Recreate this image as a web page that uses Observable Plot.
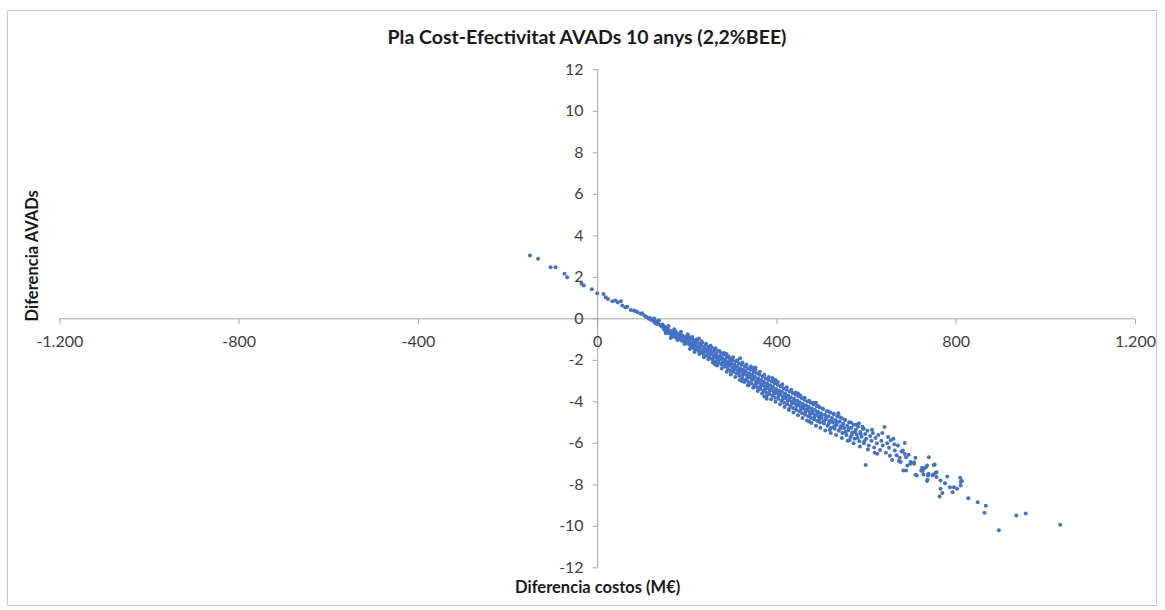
<!DOCTYPE html>
<html>
<head>
<meta charset="utf-8">
<script src="https://cdn.jsdelivr.net/npm/d3@7"></script>
<script src="https://cdn.jsdelivr.net/npm/@observablehq/plot@0.6"></script>
<style>
  html, body { margin: 0; padding: 0; background: #fff; }
  #wrap { position: relative; width: 1165px; height: 610px; overflow: hidden; font-family: Lato, "Open Sans", sans-serif; }
  #frame { position: absolute; left: 7px; top: 10px; width: 1150px; height: 596px; border: 1px solid #c8c8c8; box-sizing: border-box; }
  #title { position: absolute; top: 25px; left: 587px; transform: translateX(-50%); white-space: nowrap; font-size: 19.5px; font-weight: 700; color: #1a1a1a; line-height: 24px; }
  #chart { position: absolute; left: 0; top: 50px; }
</style>
</head>
<body>
<div id="wrap">
  <div id="frame"></div>
  <div id="title">Pla Cost-Efectivitat AVADs 10 anys (2,2%BEE)</div>
  <div id="chart"></div>
</div>
<script>
// Axis ticks
const xTicks = [-1200, -800, -400, 0, 400, 800, 1200];
const yTicks = [-12, -10, -8, -6, -4, -2, 0, 2, 4, 6, 8, 10, 12];
const xTitle = "Diferencia costos (M€)";
const yTitle = "Diferencia AVADs";

// Simulated points: [diferencia costos (M€), diferencia AVADs]
const pointsHead = [
  [-151,3.05],[-133,2.89],[-105,2.49],[-94,2.49],[-74,2.17],[-68,2.0],[-36,1.69],[-31,1.6],[-13,1.43],[-1,1.23],
  [13,1.19],[18,1.04],[23,0.96],[33,0.85],[40,0.88],[45,0.78],[52,0.85],[55,0.64],[62,0.56],[66,0.58],[74,0.43],
  [81,0.4],[85,0.36],[89,0.32],[96,0.24],[99,0.27],[104,0.16],[107,0.11],[110,0.08],[114,0.0],[117,0.04],[119,-0.05]
];
const pointsCore1 = [
  [121,-0.02],[124,-0.1],[126,0.02],[128,-0.18],[129,-0.21],[131,-0.12],[133,-0.25],[135,-0.2],[137,-0.08],[139,-0.3],
  [141,-0.32],[143,-0.36],[145,-0.28],[147,-0.45],[148,-0.48],[149,-0.38],[150,-0.55],[152,-0.42],[154,-0.6],[155,-0.48],
  [157,-0.52],[159,-0.7],[160,-0.58],[162,-0.66],[164,-0.75],[165,-0.6],[167,-0.8],[169,-0.68],[170,-0.86],[172,-0.74],
  [174,-0.62],[175,-0.9],[177,-0.8],[179,-0.72],[180,-0.98],[182,-0.84],[184,-0.92],[185,-0.76],[187,-1.05],[188,-0.9],
  [190,-0.82],[192,-1.1],[193,-0.96],[195,-0.88],[197,-1.15],[198,-1.02],[200,-0.9]
];
const pointsCore2 = [
  [202,-1.2],[203,-0.85],[204,-1.0],[205,-1.05],[207,-1.3],[208,-0.95],[209,-1.25],[210,-1.15],[212,-1.4],[213,-1.0],
  [214,-1.32],[215,-1.22],[217,-1.1],[218,-1.48],[219,-1.2],[220,-1.3],[222,-1.05],[223,-1.38],[224,-1.45],[225,-1.55],
  [226,-0.95],[227,-1.2],[228,-1.42],[229,-1.35],[230,-1.62],[231,-1.3],[233,-1.15],[234,-1.6],[235,-1.5],[236,-1.7],
  [238,-1.36],[239,-1.48],[240,-1.58],[241,-1.25],[243,-1.78],[244,-1.55],[245,-1.45],[246,-1.62],[248,-1.35],[249,-1.68],
  [250,-1.85],[251,-1.52],[253,-1.7],[254,-1.6],[255,-1.4],[256,-1.95],[258,-1.6],[259,-1.85],[260,-1.78],[261,-1.5],
  [262,-2.2],[263,-2.05],[264,-1.75],[265,-1.68],[266,-1.88],[268,-1.55],[269,-1.95],[270,-2.1],[271,-1.8],[273,-1.95],
  [274,-1.82],[275,-1.65],[276,-2.2],[278,-1.9],[279,-2.12],[280,-2.05],[281,-1.72],[283,-2.3],[284,-2.0],[285,-1.98],
  [286,-2.15],[287,-1.7],[288,-1.85],[289,-2.22],[290,-2.4],[291,-2.08],[293,-2.25],[294,-2.1],[295,-1.92],[296,-2.5],
  [298,-2.18],[299,-2.05],[300,-2.35],[301,-1.98]
];
const pointsCore3 = [
  [303,-2.55],[304,-2.38],[305,-2.2],[306,-2.42],[308,-2.05],[309,-2.3],[310,-2.62],[311,-2.3],[313,-2.48],[314,-2.6],
  [315,-2.15],[316,-2.75],[318,-2.38],[318,-1.9],[319,-2.45],[320,-2.55],[321,-2.22],[322,-3.0],[323,-2.85],[324,-2.7],
  [325,-2.45],[326,-2.65],[328,-2.3],[329,-2.5],[330,-2.95],[331,-2.55],[333,-2.72],[334,-2.85],[335,-2.38],[335,-3.2],
  [336,-3.05],[338,-2.62],[339,-2.7],[340,-2.82],[341,-2.45],[343,-3.1],[344,-2.95],[345,-2.7],[346,-2.9],[347,-2.4],
  [348,-2.55],[349,-2.78],[350,-3.2],[351,-2.8],[352,-2.35],[353,-3.0],[354,-3.1],[355,-2.62],[356,-3.3],[358,-2.88],
  [359,-2.95],[360,-3.08],[361,-2.7],[363,-3.38],[364,-3.25],[365,-2.95],[366,-3.18],[368,-2.78],[369,-3.1],[370,-3.45],
  [371,-3.05],[372,-3.75],[373,-3.25],[374,-3.4],[375,-2.88],[376,-3.55],[377,-3.85],[378,-3.12],[379,-3.2],[380,-3.35],
  [381,-2.95],[383,-3.62],[384,-3.48],[385,-3.2],[386,-3.42],[388,-3.02],[389,-3.35],[390,-3.7],[390,-2.85],[391,-3.28],
  [393,-3.5],[394,-3.6],[395,-3.1],[396,-3.8],[397,-2.95],[398,-3.38],[399,-3.45],[400,-3.58],[401,-3.18]
];
const pointsCore4 = [
  [403,-3.85],[404,-3.7],[405,-3.45],[406,-3.65],[408,-3.25],[409,-3.58],[410,-3.95],[411,-3.52],[413,-3.75],[414,-3.85],
  [415,-3.35],[416,-4.05],[418,-3.6],[419,-3.7],[420,-3.82],[421,-3.42],[423,-4.12],[424,-3.95],[425,-3.7],[426,-3.92],
  [427,-4.35],[428,-3.5],[429,-3.82],[430,-4.2],[431,-3.78],[433,-4.0],[434,-4.08],[435,-3.58],[436,-4.3],[438,-3.85],
  [439,-3.95],[440,-4.08],[441,-3.66],[443,-4.38],[444,-4.2],[445,-3.95],[446,-4.15],[447,-3.6],[448,-3.75],[449,-4.1],
  [450,-4.45],[451,-4.02],[453,-4.25],[454,-4.35],[455,-3.82],[456,-4.55],[458,-4.1],[459,-4.2],[460,-4.32],[461,-3.9],
  [463,-4.62],[464,-4.48],[465,-4.18],[466,-4.4],[468,-3.98],[469,-4.35],[470,-4.7],[471,-4.25],[472,-4.95],[473,-4.48],
  [474,-4.6],[475,-4.05],[476,-4.78],[478,-4.32],[479,-4.45],[480,-4.55],[481,-4.12],[483,-4.85],[484,-4.72],[485,-4.4],
  [486,-4.62],[487,-4.05],[488,-4.2],[489,-4.58],[490,-4.92],[491,-4.48],[493,-4.7],[494,-4.85],[495,-4.28],[496,-5.0],
  [498,-4.55],[499,-4.65],[500,-4.78]
];
const pointsCore5 = [
  [503,-4.35],[504,-4.95],[505,-5.05],[507,-4.62],[509,-4.85],[510,-4.75],[511,-4.45],[513,-5.15],[515,-4.7],[516,-5.05],
  [517,-4.92],[518,-5.35],[519,-4.52],[521,-5.25],[522,-4.9],[523,-4.78],[525,-5.0],[527,-4.6],[528,-5.18],[529,-5.3],
  [531,-4.88],[533,-5.1],[534,-5.0],[535,-4.7],[537,-4.55],[538,-5.4],[540,-4.95],[541,-5.3],[542,-5.18],[544,-4.78],
  [546,-5.5],[547,-5.15],[548,-5.05],[550,-5.28],[552,-4.88],[553,-5.45],[555,-5.6],[557,-5.15],[559,-5.38],[560,-5.28],
  [561,-4.98],[562,-5.85],[564,-5.7],[566,-5.25],[567,-5.6],[568,-5.48],[571,-5.1],[573,-5.78],[574,-5.45],[576,-5.35],
  [578,-5.58],[580,-5.75],[581,-5.2],[583,-5.05],[584,-5.9],[586,-5.45],[587,-5.55],[589,-5.68],[592,-5.3],[594,-6.0],
  [594,-5.3],[595,-5.9],[597,-5.55],[598,-7.05],[599,-5.78]
];
const pointsEdge = [
  [152,-0.7],[158,-0.35],[163,-0.92],[171,-0.5],[178,-1.02],[186,-0.62],[194,-1.22],[201,-0.75],[206,-1.45],[211,-0.88],
  [216,-1.6],[221,-1.0],[227,-1.7],[232,-1.08],[237,-1.85],[242,-1.2],[247,-1.95],[252,-1.3],[257,-2.1],[263,-1.42],
  [267,-2.25],[272,-1.55],[277,-2.4],[282,-1.65],[288,-2.55],[292,-1.8],[297,-2.68],[302,-1.85],[307,-2.8],[312,-2.0],
  [317,-2.95],[323,-2.1],[327,-3.05],[332,-2.2],[337,-3.2],[342,-2.3],[347,-3.32],[352,-2.45],[357,-3.48],[362,-2.55],
  [367,-3.6],[372,-2.7],[377,-3.72],[382,-2.8],[387,-3.88],[392,-2.95],[397,-4.0],[402,-3.05],[407,-4.12],[412,-3.15],
  [417,-4.25],[422,-3.3],[427,-4.4],[432,-3.42],[437,-4.52],[442,-3.55],[447,-4.65],[452,-3.68],[457,-4.78],[462,-3.8],
  [467,-4.9],[472,-3.95],[477,-5.02],[482,-4.05],[487,-5.15],[492,-4.2],[497,-5.25],[502,-4.32],[508,-5.38],[514,-4.45],
  [520,-5.5],[526,-4.58],[532,-5.6],[539,-4.72],[545,-5.75],[551,-4.85],[558,-5.88],[565,-5.0],[571,-6.0],[577,-5.1],
  [585,-6.15],[591,-5.2],[603,-6.3],[612,-5.35],[624,-6.5],[635,-5.5],[652,-6.6],[662,-6.05],[676,-6.9]
];
const pointsTail = [
  [602,-5.4],[605,-6.1],[608,-5.65],[611,-5.88],[614,-5.5],[617,-6.2],[618,-6.45],[620,-5.75],[623,-6.0],[626,-5.6],
  [630,-6.32],[633,-5.88],[636,-6.1],[640,-5.22],[643,-6.45],[646,-6.0],[648,-5.7],[650,-6.22],[654,-5.85],[657,-6.81],
  [660,-5.78],[663,-6.35],[667,-6.58],[670,-6.1],[672,-6.85],[674,-6.7],[678,-6.4],[681,-6.35],[682,-7.31],[685,-5.99],
  [685,-6.51],[688,-6.67],[688,-7.31],[691,-7.07],[694,-6.55],[698,-6.9],[698,-6.99],[706,-6.99],[706,-6.91],[709,-6.7],
  [709,-7.52],[712,-7.55],[722,-7.31],[724,-7.18],[725,-7.34],[727,-7.5],[728,-7.23],[732,-7.15],[735,-7.07],[735,-7.82],
  [736,-7.76],[737,-7.55],[738,-7.47],[739,-6.67],[747,-7.54],[749,-7.5],[750,-7.04],[752,-7.02],[754,-7.42],[756,-7.39],
  [756,-7.63],[763,-8.56],[765,-7.79],[765,-8.19],[769,-8.4],[775,-7.92],[780,-7.6],[786,-8.12],[792,-8.36],[795,-8.12],
  [802,-8.19],[809,-7.66],[810,-7.87],[810,-8.03],[813,-7.82],[827,-8.65],[848,-8.84],[866,-9.01],[863,-9.35],[895,-10.19],
  [934,-9.48],[955,-9.38],[1032,-9.93]
];
const points = [...pointsHead, ...pointsCore1, ...pointsCore2, ...pointsCore3, ...pointsCore4, ...pointsCore5, ...pointsEdge, ...pointsTail];

const locale = d3.formatLocale({decimal: ",", thousands: ".", grouping: [3], currency: ["", " €"], minus: "-"});
const fmt = locale.format(",");

const tickDown = {draw(ctx) { ctx.moveTo(0, 0); ctx.lineTo(0, 5); }};
const tickLeft = {draw(ctx) { ctx.moveTo(0, 0); ctx.lineTo(-5, 0); }};
const axisColor = "#a6a6a6";
const labelColor = "#404040";

const chart = Plot.plot({
  width: 1165,
  height: 555,
  marginLeft: 59.3,
  marginRight: 30,
  marginTop: 19.3,
  marginBottom: 37.7,
  style: {fontFamily: "Lato, 'Open Sans', sans-serif", background: "transparent"},
  x: {domain: [-1200, 1200], axis: null},
  y: {domain: [-12, 12], axis: null},
  marks: [
    Plot.ruleY([0], {stroke: axisColor, strokeWidth: 1}),
    Plot.ruleX([0], {stroke: axisColor, strokeWidth: 1}),
    Plot.dot(xTicks, {x: d => d, y: 0, symbol: tickDown, r: 5, fill: "none", stroke: axisColor, strokeWidth: 1}),
    Plot.dot(yTicks, {x: 0, y: d => d, symbol: tickLeft, r: 5, fill: "none", stroke: axisColor, strokeWidth: 1}),
    Plot.text(xTicks, {x: d => d, y: 0, dy: 23, text: d => fmt(d), fill: labelColor, fontSize: 16}),
    Plot.text(yTicks, {x: 0, y: d => d, dx: -14, textAnchor: "end", text: d => fmt(d), fill: labelColor, fontSize: 16}),
    Plot.dot(points, {x: d => d[0], y: d => d[1], r: 2, fill: "#4472C4", stroke: "none"}),
    Plot.text([xTitle], {frameAnchor: "bottom", dy: 25, text: d => d, fontSize: 16.5, fontWeight: "bold", fill: "#1a1a1a"}),
    Plot.text([yTitle], {frameAnchor: "left", textAnchor: "middle", dx: -27, dy: -63, rotate: -90, text: d => d, fontSize: 16.5, fontWeight: "bold", fill: "#1a1a1a"})
  ]
});
document.getElementById("chart").appendChild(chart);
</script>
</body>
</html>
